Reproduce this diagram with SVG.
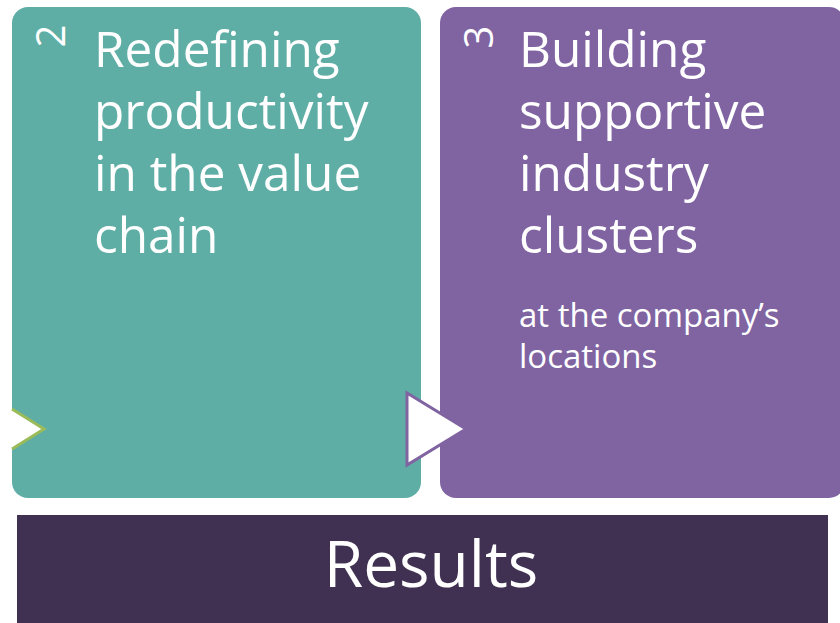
<svg xmlns="http://www.w3.org/2000/svg" width="840" height="623" viewBox="0 0 840 623">
<style>
.t{font-family:"Open Sans","Liberation Sans",sans-serif;fill:#ffffff}
.h{font-size:49.5px}
.s{font-size:33px}
.n{font-size:40px}
</style>
<rect width="840" height="623" fill="#ffffff"/>
<g id="node-2">
<rect x="12" y="7" width="409" height="491" rx="16" fill="#5FAEA6"/>
<text class="t n" text-anchor="middle" transform="translate(65,36) rotate(-90)">2</text>
<text class="t h" x="94" y="67">Redefining</text>
<text class="t h" x="94" y="129">productivity</text>
<text class="t h" x="94" y="191">in the value</text>
<text class="t h" x="94" y="253">chain</text>
</g>
<g id="node-3">
<rect x="440" y="7" width="405" height="491" rx="16" fill="#8064A2"/>
<text class="t n" text-anchor="middle" transform="translate(493,37) rotate(-90)">3</text>
<text class="t h" x="519" y="67">Building</text>
<text class="t h" x="519" y="129">supportive</text>
<text class="t h" x="519" y="191">industry</text>
<text class="t h" x="519" y="253">clusters</text>
<text class="t s" x="519" y="327">at the company’s</text>
<text class="t s" x="519" y="368">locations</text>
</g>
<g id="node-results">
<rect x="17" y="515" width="811" height="110" fill="#403152"/>
<text class="t" font-size="64" text-anchor="middle" x="431" y="587">Results</text>
</g>
<g id="connectors">
<polygon points="12,409 44,429 12,449" fill="#ffffff"/>
<polyline points="12,409 44,429 12,449" fill="none" stroke="#9BBB59" stroke-width="3"/>
<polygon points="407,393 466,429 407,465" fill="#ffffff" stroke="#8064A2" stroke-width="3"/>
</g>
</svg>
